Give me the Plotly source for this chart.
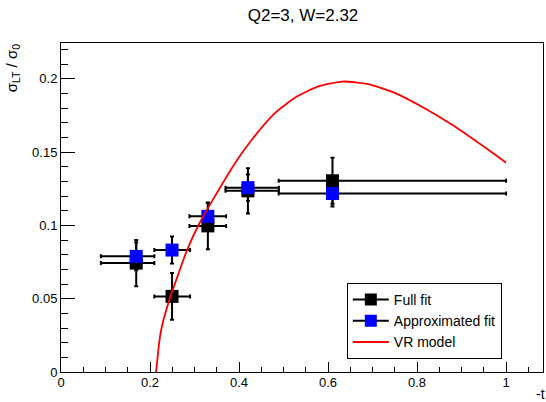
import plotly.graph_objects as go

# Data
t_mean = [0.169, 0.2495, 0.33, 0.42, 0.61]
t_lo = [0.0896, 0.2097, 0.2885, 0.3696, 0.489]
t_hi = [0.2097, 0.29, 0.371, 0.4896, 1.0]

full_fit = [0.0743, 0.0516, 0.0997, 0.1236, 0.1305]
full_err = [0.0158, 0.0160, 0.0160, 0.0155, 0.0157]

approx_fit = [0.0789, 0.0832, 0.1062, 0.1258, 0.1218]
approx_err = [0.0094, 0.0092, 0.0092, 0.0090, 0.0089]

vr_t = [0.2135, 0.217, 0.221, 0.225, 0.232, 0.246, 0.265, 0.283, 0.311, 0.345,
        0.392, 0.43, 0.48, 0.53, 0.58, 0.633, 0.69, 0.75, 0.806, 0.8815, 0.957, 1.0]
vr_val = [0.0, 0.0100, 0.0210, 0.0285, 0.0375, 0.0516, 0.068, 0.0830, 0.1015, 0.1195,
          0.1430, 0.1590, 0.1765, 0.1880, 0.1950, 0.1982, 0.1965, 0.1905, 0.1818, 0.1682, 0.1523, 0.1428]

ex_minus = [m - lo for m, lo in zip(t_mean, t_lo)]
ex_plus = [hi - m for m, hi in zip(t_mean, t_hi)]

FONT = "Liberation Sans, Arial, sans-serif"

fig = go.Figure()

def err_x():
    return dict(type="data", symmetric=False, array=ex_plus, arrayminus=ex_minus,
                color="black", thickness=2, width=2)

def err_y(e):
    return dict(type="data", array=e, color="black", thickness=2, width=2)

fig.add_trace(go.Scatter(x=t_mean, y=full_fit, mode="markers", showlegend=False,
                         marker=dict(symbol="square", size=13, color="black"),
                         error_x=err_x(), error_y=err_y(full_err)))
fig.add_trace(go.Scatter(x=t_mean, y=approx_fit, mode="markers", showlegend=False,
                         marker=dict(symbol="square", size=13, color="blue"),
                         error_x=err_x(), error_y=err_y(approx_err)))
fig.add_trace(go.Scatter(x=vr_t, y=vr_val, mode="lines", showlegend=False,
                         line=dict(color="red", width=1.8, shape="spline", smoothing=0.6)))

# legend entries
fig.add_trace(go.Scatter(x=[None], y=[None], mode="lines+markers", name="Full fit",
                         line=dict(color="black", width=2),
                         marker=dict(symbol="square", size=12, color="black")))
fig.add_trace(go.Scatter(x=[None], y=[None], mode="lines+markers", name="Approximated fit",
                         line=dict(color="black", width=2),
                         marker=dict(symbol="square", size=12, color="blue")))
fig.add_trace(go.Scatter(x=[None], y=[None], mode="lines", name="VR model",
                         line=dict(color="red", width=1.8)))

fig.update_layout(
    width=546, height=402,
    margin=dict(l=61, r=3, t=43, b=30),
    paper_bgcolor="white", plot_bgcolor="white",
    font=dict(family=FONT, size=13, color="black"),
    title=dict(text="Q2=3, W=2.32", x=0.555, xref="container", xanchor="center",
               y=0.963, yanchor="middle", font=dict(size=17, family=FONT)),
    legend=dict(x=0.593, y=0.2705, xanchor="left", yanchor="top",
                bgcolor="white", bordercolor="black", borderwidth=1,
                font=dict(size=14, family=FONT), tracegroupgap=0,
                itemwidth=36, entrywidth=166, entrywidthmode="pixels"),
    xaxis=dict(range=[0, 1.083], dtick=0.2, tick0=0, ticks="inside", ticklen=10,
               tickcolor="black", showgrid=False, zeroline=False,
               showline=True, linecolor="black", linewidth=1, mirror=True,
               ticklabelstandoff=-2,
               minor=dict(dtick=0.05, ticks="inside", ticklen=5, tickcolor="black")),
    yaxis=dict(range=[0, 0.2245], dtick=0.05, tick0=0, ticks="inside", ticklen=14,
               tickcolor="black", showgrid=False, zeroline=False,
               showline=True, linecolor="black", linewidth=1, mirror=True,
               minor=dict(dtick=0.01, ticks="inside", ticklen=7, tickcolor="black")),
    annotations=[
        dict(text="σ<sub>LT</sub> / σ<sub>0</sub>", textangle=-90, xref="paper", yref="paper",
             x=-0.1, y=1.006, xanchor="center", yanchor="top", showarrow=False,
             font=dict(size=15, family=FONT)),
        dict(text="-t", xref="paper", yref="paper", x=0.994, y=-0.067,
             xanchor="center", yanchor="middle", showarrow=False,
             font=dict(size=14, family=FONT)),
    ],
)

fig.write_html("out.html", post_script="document.body.style.margin='0px';",
               config={"displayModeBar": False})
